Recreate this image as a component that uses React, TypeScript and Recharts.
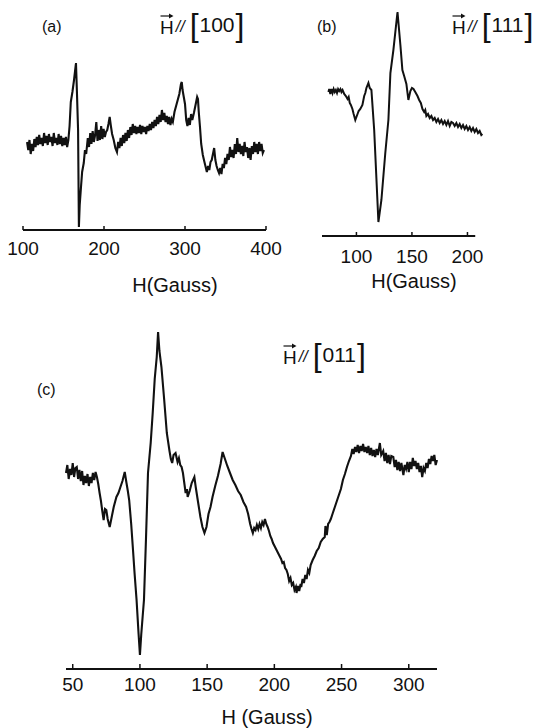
import React from "react";
import { LineChart, Line, XAxis, YAxis, ReferenceLine } from "recharts";

// (a) H // [100] — field in Gauss, signal in arbitrary units
const fieldA = [
  105, 106.5, 108, 109.5, 111, 112.5, 114, 115.5, 117, 118.5, 120, 121.5, 123, 124.5, 126, 127.5, 129, 130.5, 132, 133.5,
  135, 136.5, 138, 139.5, 141, 142.5, 144, 145.5, 147, 148.5, 150, 151.5, 153, 154.5, 156, 157.5, 159, 161, 163, 165.4,
  166.5, 168, 169, 170, 171.6, 173, 175, 176.5, 178, 180, 181.5, 183, 184.5, 186, 187.5, 189, 190.5, 192, 193.5, 195,
  196.5, 198, 199.5, 201, 202.5, 204, 205.5, 207, 208.5, 210, 212, 214, 216, 217.5, 219, 220.5, 222, 223.5, 225, 226.5,
  228, 229.5, 231, 232.5, 234, 235.5, 237, 238.5, 240, 241.5, 243, 244.5, 246, 247.5, 249, 250.5, 252, 253.5, 255, 256.5,
  258, 259.5, 261, 262.5, 264, 265.5, 267, 268.5, 270, 271.5, 273, 274.5, 276, 277.5, 279, 280.5, 282, 283.5, 285, 287,
  289, 291, 293, 295, 296, 297, 298.5, 300, 301.5, 303, 304.5, 306, 307.5, 309, 311, 313, 315, 316, 317, 318.5,
  320, 322, 324, 325.5, 327, 328.5, 330, 331.5, 333, 334.5, 336, 337.5, 339, 340.5, 342, 343.5, 345, 346.5, 348, 349.5,
  351, 352.5, 354, 355.5, 357, 358.5, 360, 361.5, 363, 364.5, 366, 367.5, 369, 370.5, 372, 373.5, 375, 376.5, 378, 379.5,
  381, 382.5, 384, 385.5, 387, 388.5, 390, 391.5, 393, 394.5, 396, 397.5,
];
const signalA = [
  88, 80, 90, 76, 86, 79, 91, 83, 93, 85, 95, 86, 92, 84, 97, 87, 94, 85, 96, 88,
  93, 84, 97, 87, 92, 85, 96, 86, 94, 84, 92, 85, 93, 83, 90, 104, 128, 138, 150, 167,
  140, 100, 3, 25, 43, 58, 67, 80, 76, 92, 83, 97, 86, 99, 88, 95, 108, 89, 100, 90,
  104, 91, 101, 93, 98, 100, 106, 113, 104, 96, 90, 82, 78, 88, 82, 92, 84, 95, 87, 97,
  89, 100, 92, 103, 95, 106, 97, 104, 96, 103, 97, 105, 96, 104, 98, 103, 96, 104, 99, 106,
  100, 108, 102, 110, 104, 113, 106, 115, 108, 120, 110, 117, 108, 114, 106, 113, 105, 111, 108, 118,
  124, 130, 136, 146, 148, 140, 133, 126, 110, 104, 112, 105, 116, 110, 117, 125, 133, 131, 118, 103,
  86, 75, 68, 63, 58, 64, 60, 68, 70, 76, 82, 70, 64, 60, 57, 62, 56, 66, 62, 72,
  66, 76, 70, 83, 73, 80, 72, 86, 76, 92, 78, 86, 76, 84, 74, 88, 78, 83, 72, 82,
  70, 84, 76, 88, 78, 86, 76, 88, 79, 86, 77, 80,
];
const ticksA = [100, 200, 300, 400];

// (b) H // [111]
const fieldB = [
  74.8, 75.5, 76.5, 77.5, 78.5, 79.5, 80.5, 81.5, 82.5, 83.5, 84.5, 85.6, 86.5, 87.5, 89, 90.5, 92, 93, 94, 95,
  96.4, 97.5, 99, 100, 101, 102, 103.5, 105.4, 107, 108, 109, 110.8, 112, 113.5, 116, 119.8, 122.5, 126, 128.8, 130.6,
  133.3, 137, 139.6, 141.4, 143, 145, 146.8, 148.6, 150, 151.4, 153, 155, 156.5, 158, 159.5, 161, 162, 163, 164.5, 166,
  167.5, 169, 170.5, 172, 173.5, 175, 176.5, 178, 179.5, 181, 182.5, 184, 185.5, 187, 188.5, 190, 191.5, 193, 194.5, 196,
  197.5, 199, 200.5, 202, 203.5, 205, 206.5, 208, 209.5, 211, 212.5, 213.5,
];
const signalB = [
  144, 147, 142, 147, 143, 147, 144, 146, 143, 147, 145, 147, 144, 146, 142, 140, 137, 139, 133, 131,
  127, 122, 116, 119, 122, 125, 127, 131, 140, 143, 148, 153, 148, 146, 106, 14, 36, 83, 116, 163,
  186, 224, 191, 166, 160, 152, 136, 145, 148, 147, 144, 140, 136, 133, 127, 124, 126, 120, 122, 118,
  120, 116, 118, 114, 117, 113, 116, 112, 115, 111, 115, 110, 114, 113, 110, 113, 109, 112, 108, 111,
  107, 110, 106, 109, 105, 108, 104, 107, 103, 105, 101, 102,
];
const ticksB = [100, 150, 200];

// (c) H // [011]
const fieldC = [
  45, 46, 47, 48, 49, 50, 51, 52, 53, 54, 55, 56, 57, 58, 59, 60, 61, 62, 63, 64,
  65, 66, 67, 68, 69, 70, 71, 72, 73, 74, 75, 76, 77.5, 79, 80.5, 82.5, 84, 85.5, 87, 88.7,
  90, 91, 92, 93.5, 95, 96, 97.5, 99, 100, 101, 102, 103, 104.5, 106, 108, 109.5, 111, 112.5, 113.5, 114.5,
  116, 118, 120, 122, 123, 124, 125, 126.5, 128, 129, 130, 131, 132, 133, 134, 135, 135.5, 137, 138.5, 140.5,
  141.5, 143, 145, 146.5, 148, 149.5, 151, 152.5, 154, 156, 158, 160, 161.5, 163, 165, 167, 169, 171, 173, 175,
  177, 179, 180.5, 182, 183, 184, 185, 186, 187, 188, 189, 190, 191, 192, 193, 194, 195, 196, 197, 198,
  199, 200.5, 202, 203.5, 205, 206, 207, 208, 209, 210, 211, 212, 213, 214, 215, 216, 216.5, 217.5, 218.5, 219.5,
  220, 221, 222, 223, 224, 225, 226, 227, 228.5, 230, 231.5, 233, 234.5, 236, 237.5, 238, 239, 240, 241, 242,
  243.5, 245, 246.5, 248, 249.5, 251, 252.5, 254, 255.5, 257, 258, 259, 260, 261, 262, 263, 264, 265, 266, 267,
  268, 269, 270, 271, 272, 273, 274, 275, 276, 277, 278.5, 279.5, 281, 282, 283, 284, 285, 286, 287, 288.5,
  289.5, 290.5, 291.5, 292.5, 293.5, 294.5, 296, 297, 298, 299, 300, 301, 302, 303, 304, 305, 306, 307, 308, 309,
  310, 311, 312, 313, 314, 315, 316, 317, 318, 319, 320, 321,
];
const signalC = [
  196, 204, 190, 200, 194, 206, 192, 201, 202, 190, 199, 188, 198, 184, 193, 186, 195, 183, 192, 186,
  196, 189, 197, 192, 185, 176, 168, 158, 149, 160, 159, 150, 142, 152, 162, 172, 176, 182, 188, 197,
  186, 178, 169, 145, 116, 96, 69, 35, 14, 35, 52, 69, 130, 196, 226, 256, 290, 312, 337, 318,
  302, 270, 236, 218, 210, 206, 214, 216, 207, 211, 204, 202, 196, 186, 176, 180, 172, 178, 186, 192,
  182, 169, 152, 142, 136, 142, 155, 162, 172, 183, 193, 205, 217, 211, 203, 196, 189, 184, 178, 174,
  167, 162, 155, 145, 140, 136, 141, 139, 144, 140, 145, 141, 147, 144, 150, 145, 142, 138, 133, 130,
  126, 122, 118, 114, 110, 106, 107, 101, 99, 95, 88, 91, 84, 86, 79, 82, 76, 83, 78, 85,
  82, 90, 86, 94, 90, 99, 96, 104, 109, 113, 118, 121, 127, 130, 132, 143, 134, 145, 147, 150,
  156, 162, 168, 174, 180, 189, 195, 202, 208, 213, 220, 215, 222, 217, 224, 216, 223, 218, 225, 217,
  222, 216, 223, 214, 221, 213, 219, 212, 220, 214, 226, 214, 218, 208, 216, 206, 214, 205, 213, 212,
  202, 209, 199, 207, 198, 206, 194, 204, 200, 207, 197, 207, 200, 211, 203, 208, 200, 206, 197, 203,
  192, 201, 198, 206, 201, 210, 205, 213, 208, 214, 204, 209,
];
const ticksC = [50, 100, 150, 200, 250, 300];

const dataA = fieldA.map((h, i) => ({ h, v: signalA[i] }));
const dataB = fieldB.map((h, i) => ({ h, v: signalB[i] }));
const dataC = fieldC.map((h, i) => ({ h, v: signalC[i] }));

const INK = "#111";
const FONT = "'Liberation Sans', Arial, Helvetica, sans-serif";

// "H // [hkl]" direction label, vector arrow drawn over the H
function FieldLabel({ left, top, digits }: { left: number; top: number; digits: string }) {
  return (
    <div
      style={{
        position: "absolute",
        left,
        top,
        display: "flex",
        alignItems: "center",
        height: 28,
        color: INK,
        fontSize: 19,
      }}
    >
      <span style={{ position: "relative", lineHeight: "15px", marginTop: 4 }}>
        H
        <svg width={14} height={6} style={{ position: "absolute", left: 0, top: -7 }}>
          <line x1={0.5} y1={3} x2={12} y2={3} stroke={INK} strokeWidth={1.2} />
          <path d="M9 0.5 L13.5 3 L9 5.5 Z" fill={INK} />
        </svg>
      </span>
      <span style={{ fontSize: 16, fontStyle: "italic", marginLeft: 2, lineHeight: "16px", marginTop: 4 }}>//</span>
      <span style={{ fontSize: 32, marginLeft: 5, lineHeight: "28px" }}>[</span>
      <span style={{ fontSize: 21, marginLeft: 1, lineHeight: "22px" }}>{digits}</span>
      <span style={{ fontSize: 32, marginLeft: 1, lineHeight: "28px" }}>]</span>
    </div>
  );
}

const abs = (left: number, top: number, size: number): React.CSSProperties => ({
  position: "absolute",
  left,
  top,
  fontSize: size,
  lineHeight: "24px",
  color: INK,
  whiteSpace: "nowrap",
});

export default function App() {
  const tickStyle = { fill: INK, fontSize: 19, fontFamily: FONT };
  return (
    <div
      style={{
        position: "absolute",
        left: 0,
        top: 0,
        width: 534,
        height: 728,
        background: "#fff",
        fontFamily: FONT,
      }}
    >
      <div style={{ position: "absolute", left: 0, top: 0 }}>
        <LineChart width={300} height={300} data={dataA} margin={{ top: 60, right: 34, bottom: 40, left: 23 }}>
          <XAxis
            dataKey="h"
            type="number"
            domain={[100, 400]}
            ticks={ticksA}
            height={30}
            tickSize={-4}
            tickMargin={16}
            tick={tickStyle}
            axisLine={{ stroke: INK, strokeWidth: 2 }}
            tickLine={{ stroke: INK, strokeWidth: 1.5 }}
          />
          <YAxis type="number" domain={[0, 170]} hide />
          <Line type="linear" dataKey="v" stroke={INK} strokeWidth={2.1} dot={false} isAnimationActive={false} />
        </LineChart>
      </div>

      <div style={{ position: "absolute", left: 290, top: 0 }}>
        <LineChart width={244} height={300} data={dataB} margin={{ top: 6, right: 51, bottom: 34, left: 32 }}>
          <XAxis
            dataKey="h"
            type="number"
            domain={[69, 214]}
            ticks={ticksB}
            height={30}
            tickSize={-4}
            tickMargin={18}
            tick={tickStyle}
            axisLine={false}
            tickLine={{ stroke: INK, strokeWidth: 1.5 }}
          />
          <YAxis type="number" domain={[0, 230]} hide />
          <ReferenceLine
            segment={[
              { x: 69, y: 0 },
              { x: 207, y: 0 },
            ]}
            stroke={INK}
            strokeWidth={2}
            ifOverflow="visible"
          />
          <Line type="linear" dataKey="v" stroke={INK} strokeWidth={2} dot={false} isAnimationActive={false} />
        </LineChart>
      </div>

      <div style={{ position: "absolute", left: 0, top: 300 }}>
        <LineChart width={534} height={428} data={dataC} margin={{ top: 24, right: 97, bottom: 29, left: 66 }}>
          <XAxis
            dataKey="h"
            type="number"
            domain={[45, 321]}
            ticks={ticksC}
            height={30}
            tickSize={-5}
            tickMargin={14}
            tick={tickStyle}
            axisLine={{ stroke: INK, strokeWidth: 2 }}
            tickLine={{ stroke: INK, strokeWidth: 1.5 }}
          />
          <YAxis type="number" domain={[0, 345]} hide />
          <Line type="linear" dataKey="v" stroke={INK} strokeWidth={2.1} dot={false} isAnimationActive={false} />
        </LineChart>
      </div>

      <span style={abs(42, 15, 16)}>(a)</span>
      <span style={abs(317, 15, 16)}>(b)</span>
      <span style={abs(37, 378, 16)}>(c)</span>

      <FieldLabel left={160} top={11} digits="100" />
      <FieldLabel left={452} top={11} digits="111" />
      <FieldLabel left={283} top={341} digits="011" />

      <span style={{ ...abs(175, 273, 20), transform: "translateX(-50%)" }}>H(Gauss)</span>
      <span style={{ ...abs(414, 269, 20), transform: "translateX(-50%)" }}>H(Gauss)</span>
      <span style={{ ...abs(267, 705, 20), transform: "translateX(-50%)" }}>H (Gauss)</span>
    </div>
  );
}
